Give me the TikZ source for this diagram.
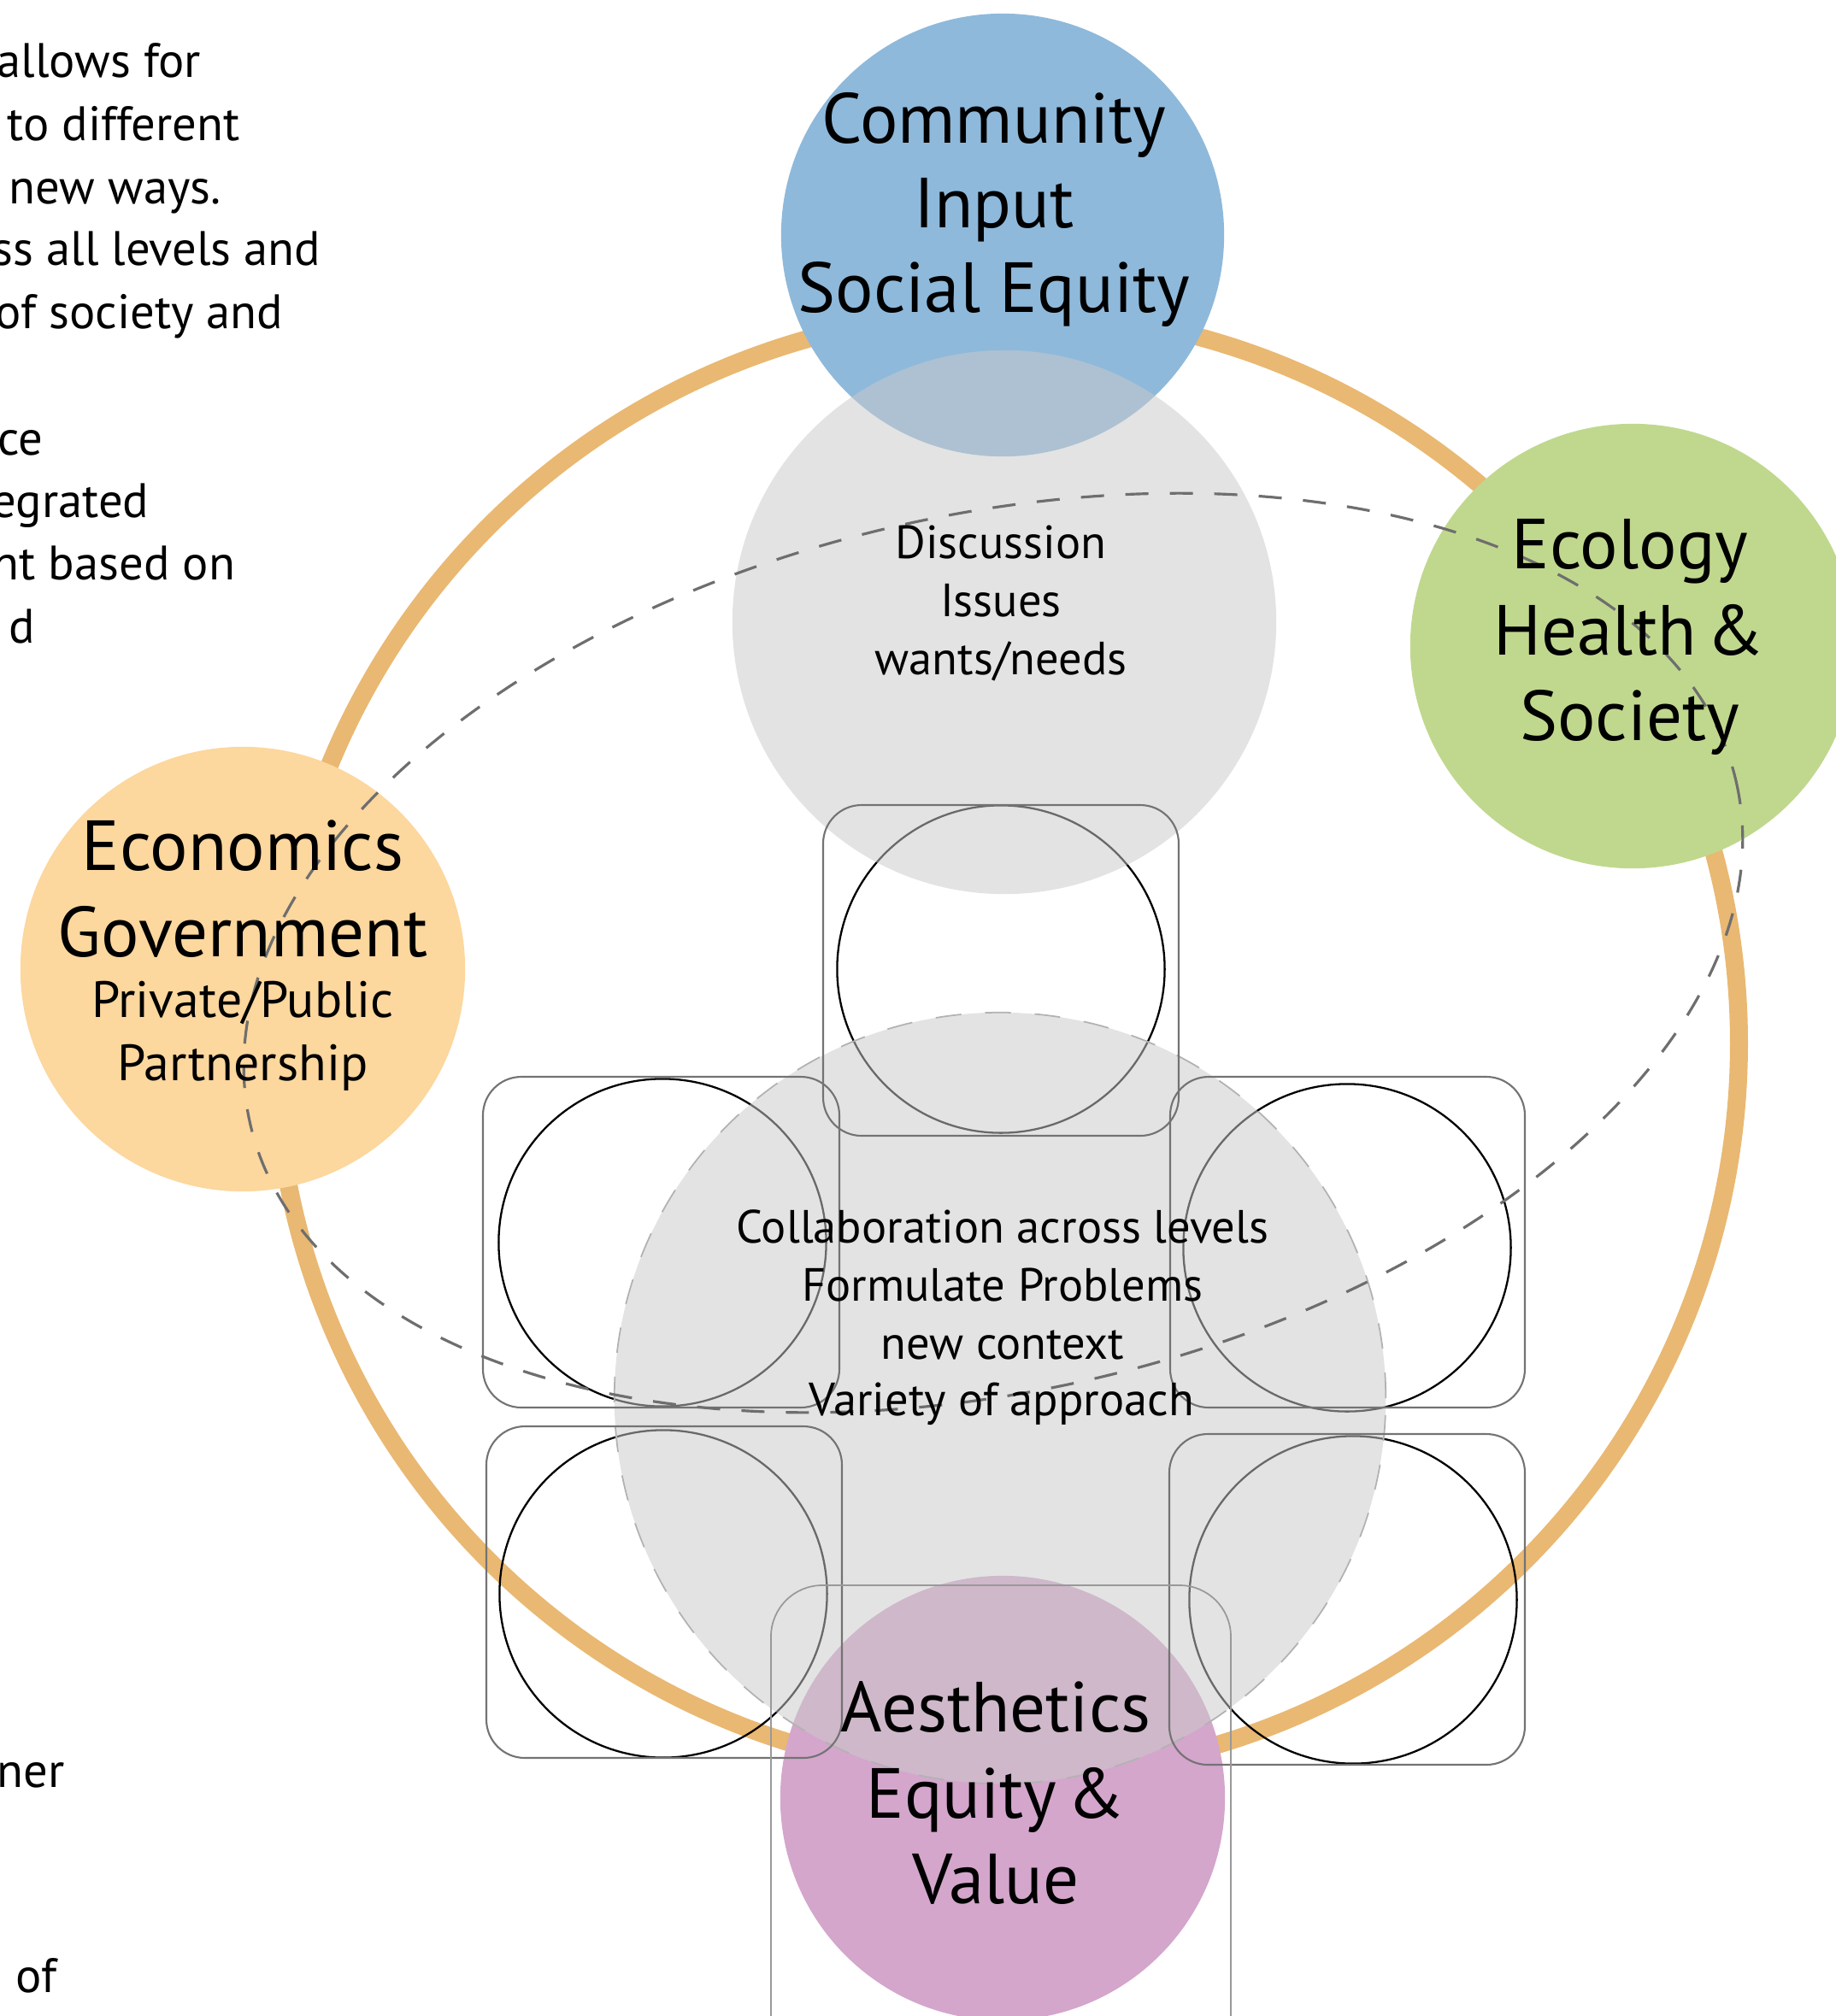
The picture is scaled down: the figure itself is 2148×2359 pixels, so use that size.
\documentclass[tikz,border=0pt]{standalone}
\usepackage{fontspec}
\setmainfont{PT Sans}
\definecolor{ringc}{RGB}{233,184,114}
\definecolor{bluec}{RGB}{142,185,219}
\definecolor{greenc}{RGB}{192,216,142}
\definecolor{econc}{RGB}{252,215,158}
\definecolor{purplec}{RGB}{212,166,204}
\definecolor{grayf}{RGB}{202,202,202}
\definecolor{rectc}{RGB}{115,115,115}
\definecolor{dashc}{RGB}{110,110,110}
\begin{document}
\begin{tikzpicture}[x=0.01cm,y=-0.01cm,
  blob/.style={circle,inner sep=0,outer sep=0,draw=none},
  veil/.style={circle,inner sep=0,outer sep=0,fill=grayf,fill opacity=0.52},
  box/.style={draw=rectc,line width=0.6pt,rounded corners=0.45cm},
  ring/.style={circle,black,line width=0.65pt,inner sep=0,outer sep=0,draw,minimum size=3.83cm},
  big/.style={font=\fontsize{23.6}{28}\selectfont,inner sep=0,anchor=base},
  mid/.style={font=\fontsize{17.0}{21}\selectfont,inner sep=0},
  side/.style={font=\fontsize{16.1}{20}\selectfont,inner sep=0,anchor=base west},
  sml/.style={font=\fontsize{15.5}{19}\selectfont,inner sep=0,anchor=base}]
\useasboundingbox (0,0) rectangle (2148,2359);
\clip (0,0) rectangle (2148,2359);
% orange ring
\node[circle,draw=ringc,line width=0.21cm,minimum size=17.12cm,inner sep=0] (orbit) at (1178,1221) {};
% coloured circles
\node[blob,fill=econc,minimum size=5.2cm] (econ) at (284,1134) {};
\node[blob,fill=greenc,minimum size=5.2cm] (eco) at (1910,756) {};
\node[blob,fill=bluec,minimum size=5.18cm] (comm) at (1173,275) {};
\node[blob,fill=purplec,minimum size=5.2cm] (aest) at (1173,2104) {};
% small circles
\node[ring] (c1) at (1171,1134) {};
\node[ring] (c2) at (775,1454) {};
\node[ring] (c3) at (1576,1460) {};
\node[ring] (c4) at (776,1865) {};
\node[ring] (c5) at (1583,1872) {};
% grey translucent circles
\node[veil,minimum size=6.36cm] (disc) at (1175,728) {};
\node[veil,minimum size=9.02cm,draw=gray!60,draw opacity=1,line width=0.5pt,dash pattern=on 0.3cm off 0.28cm] (collab) at (1170,1636) {};
% rounded boxes
\draw[box] (963,942) rectangle (1379,1329);
\draw[box] (565,1260) rectangle (982,1647);
\draw[box] (1369,1260) rectangle (1784,1647);
\draw[box] (569,1669) rectangle (985,2057);
\draw[box] (1368,1678) rectangle (1784,2065);
\draw[draw=gray!80,line width=0.5pt,rounded corners=0.6cm] (902,1855) rectangle (1440,2430);
% dashed ellipse
\draw[dashc,line width=0.9pt,dash pattern=on 0.27cm off 0.25cm,shift={(1162,1115)},rotate=13] (0,0) ellipse [x radius=892,y radius=512];
% texts in coloured circles
\node[big] (t1) at (1163,167) {Community};
\node[big] (t2) at (1163,266) {Input};
\node[big] (t3) at (1163,365) {Social Equity};
\node[big] (t4) at (1907,665) {Ecology};
\node[big] (t5) at (1906,766) {Health\kern-0.12em{} \&};
\node[big] (t6) at (1907,866) {Society};
\node[big] (t7) at (284,1018) {Economics};
\node[big] (t8) at (284,1119) {Government};
\node[mid,anchor=base] (t9) at (284,1190) {Private/Public};
\node[mid,anchor=base] (t10) at (284,1264) {Partnership};
\node[big] (t11) at (1165,2026) {Aesthetics};
\node[big] (t12) at (1165,2127) {Equity\kern-0.12em{} \&};
\node[big] (t13) at (1165,2227) {Value};
% grey circle texts
\node[sml] (d1) at (1171,653) {Discussion};
\node[sml] (d2) at (1171,721) {Issues};
\node[sml] (d3) at (1171,789) {wants/needs};
\node[sml] (k1) at (1173,1454) {Collaboration across levels};
\node[sml] (k2) at (1173,1522) {Formulate Problems};
\node[sml] (k3) at (1173,1590) {new context};
\node[sml] (k4) at (1172,1656) {Variety of approach};
% clipped side text
\node[side] (l1) at (-4,90) {allows for};
\node[side] (l2) at (8,164) {to different};
\node[side] (l3) at (10,238) {new ways.};
\node[side] (l4) at (-9,310) {ss all levels and};
\node[side] (l5) at (-6,384) {of society and};
\node[side] (l6) at (-3,532) {ce};
\node[side] (l7) at (-10,605) {egrated};
\node[side] (l8) at (-9,678) {nt based on};
\node[side] (l9) at (10,752) {d};
\node[side] (l10) at (-4,2091) {ner};
\node[side] (l11) at (18,2331) {of};
\end{tikzpicture}
\end{document}
